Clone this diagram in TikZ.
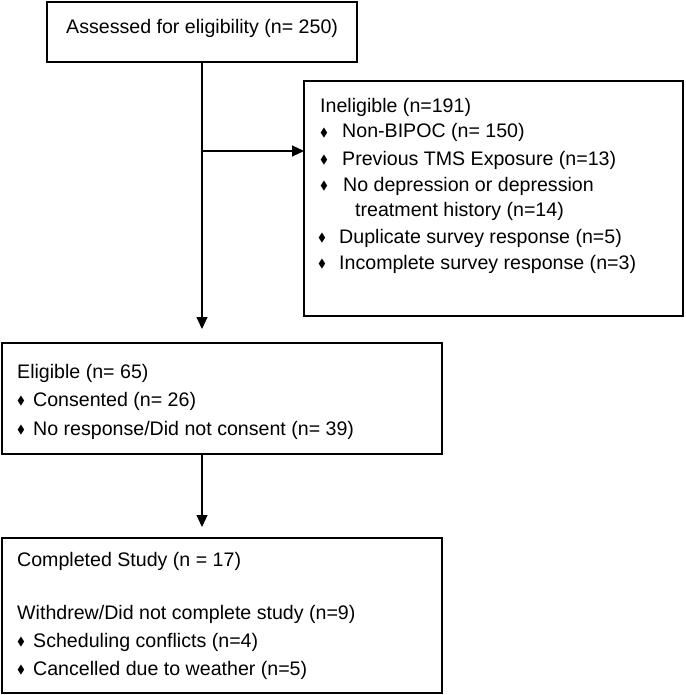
\documentclass[tikz,border=0pt]{standalone}
\usepackage{fontspec}
\setmainfont{Liberation Sans}
\usepackage{amssymb}
\usetikzlibrary{arrows.meta, positioning}

\newcommand{\dia}{\raisebox{1.5pt}{\scalebox{0.6}{$\blacklozenge$}}}
\newcommand{\bl}[1]{\makebox[#1pt][l]{\dia}}

\begin{document}
\begin{tikzpicture}[
  x=1pt, y=-1pt, >={Triangle[length=12pt, width=11pt]},
  box/.style={draw=black, line width=1.2pt, inner sep=0pt, outer sep=0pt},
  txt/.style={anchor=base west, inner sep=0pt, font=\fontsize{19.6}{23}\selectfont},
  arr/.style={->, line width=1.2pt}
]
\useasboundingbox (0,0) rectangle (685,695);

% boxes of the flow chart
\node[box, minimum width=310pt, minimum height=60pt]  (assess) at (202,32)      {};
\node[box, minimum width=379pt, minimum height=235pt] (inelig) at (493.5,198.5) {};
\node[box, minimum width=440pt, minimum height=111pt] (elig)   at (222,398.5)   {};
\node[box, minimum width=440pt, minimum height=155pt] (done)   at (222,615.5)   {};

% texts
\node[txt] (a1) at (66,34)   {Assessed for eligibility (n= 250)};

\node[txt] (i1) at (320,113) {Ineligible (n=191)};
\node[txt] (i2) at (320,138) {\bl{22}Non-BIPOC (n= 150)};
\node[txt] (i3) at (320,165) {\bl{22}Previous TMS Exposure (n=13)};
\node[txt] (i4) at (320,191) {\bl{23}No depression or depression};
\node[txt] (i5) at (355,216) {treatment history (n=14)};
\node[txt] (i6) at (318,243) {\bl{21}Duplicate survey response (n=5)};
\node[txt] (i7) at (318,269) {\bl{21}Incomplete survey response (n=3)};

\node[txt] (e1) at (17,378)  {Eligible (n= 65)};
\node[txt] (e2) at (17,406)  {\bl{16}Consented (n= 26)};
\node[txt] (e3) at (17,435)  {\bl{16}No response/Did not consent (n= 39)};

\node[txt] (d1) at (17,566)  {Completed Study (n = 17)};
\node[txt] (d2) at (17,619)  {Withdrew/Did not complete study (n=9)};
\node[txt] (d3) at (17,647)  {\bl{16}Scheduling conflicts (n=4)};
\node[txt] (d4) at (17,675)  {\bl{16}Cancelled due to weather (n=5)};

% connectors
\coordinate (fork) at (202,151);
\draw[arr, shorten >=14pt] (assess.south) -- (assess.south |- elig.north);
\draw[arr] (fork) -- (fork -| inelig.west);
\draw[arr, shorten >=11pt] (elig.south -| assess.south) -- (assess.south |- done.north);

\end{tikzpicture}
\end{document}
